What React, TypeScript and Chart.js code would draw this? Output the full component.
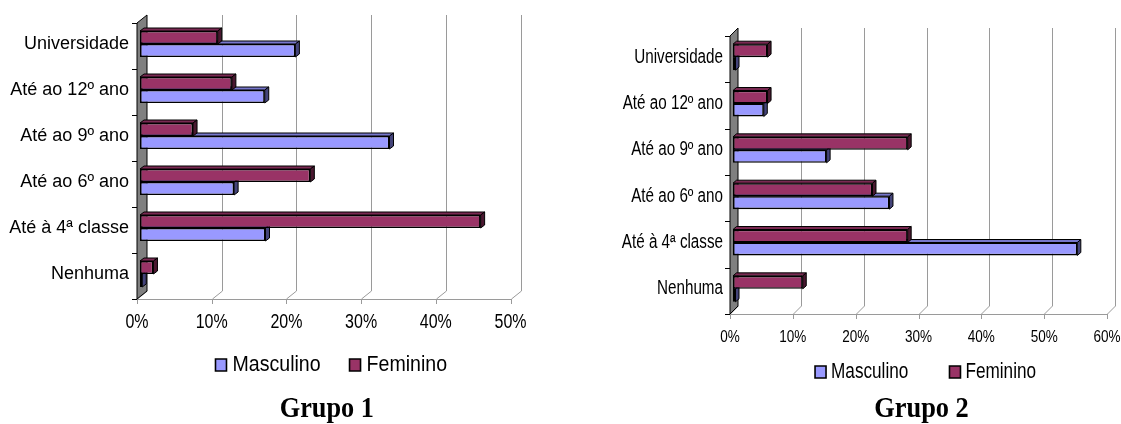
import React, { useEffect, useRef } from 'react';
import { Chart, registerables } from 'chart.js';

Chart.register(...registerables);

// ---- data ----
const categories = ['Universidade', 'Até ao 12º ano', 'Até ao 9º ano', 'Até ao 6º ano', 'Até à 4ª classe', 'Nenhuma'];
const seriesNames = ['Masculino', 'Feminino'];
const grupo1Masculino = [20.8, 16.7, 33.4, 12.6, 16.8, 0.3];
const grupo1Feminino = [10.4, 12.3, 7.1, 22.8, 45.6, 1.8];
const grupo2Masculino = [0.4, 4.9, 14.9, 24.9, 54.8, 0.4];
const grupo2Feminino = [5.5, 5.5, 27.8, 22.2, 27.8, 11.1];
const grupo1Ticks = [0, 10, 20, 30, 40, 50];
const grupo2Ticks = [0, 10, 20, 30, 40, 50, 60];
const chartTitles = ['Grupo 1', 'Grupo 2'];

const MASC = { front: '#9999FF', top: '#7777CC', side: '#44447A' };
const FEM = { front: '#993366', top: '#7A2952', side: '#4A1830' };

const SANS = '"Liberation Sans", Arial, Helvetica, sans-serif';
const SERIF = '"Liberation Serif", "Times New Roman", serif';

type Cfg = {
  left: number;
  width: number;
  yWidth: number;
  padRight: number;
  padTop: number;
  xHeight: number;
  xMax: number;
  ticks: number[];
  masc: number[];
  fem: number[];
  title: string;
  catFont: number;
  tickFont: number;
  tickPad: number;
  legendFont: number;
  legendPad: number;
  legendShift: number;
  titlePadTop: number;
  depth: [number, number];
  barDepth: [number, number];
  catPct: number;
  yPad: number;
  // font size -> [horizontal scale, x offset]
  textScale: Record<string, [number, number]>;
};

function make3d(cfg: Cfg) {
  const faces: Record<string, { top: string; side: string }> = {
    Masculino: MASC,
    Feminino: FEM,
  };
  return {
    id: 'excel3d',
    afterLayout(chart: any) {
      if (chart.legend) {
        chart.legend.left += cfg.legendShift;
        chart.legend.right += cfg.legendShift;
      }
    },
    beforeDatasetsDraw(chart: any) {
      const ctx = chart.ctx as CanvasRenderingContext2D;
      const area = chart.chartArea;
      const xs = chart.scales.x;
      const [Dx, Dy] = cfg.depth;
      const x0 = area.left - 3;
      const top = area.top + 2;
      const bottom = area.bottom + 2;
      ctx.save();
      ctx.lineWidth = 1;
      ctx.strokeStyle = '#9a9a9a';
      cfg.ticks.forEach((v) => {
        const x = Math.round(xs.getPixelForValue(v) - 3) + 0.5;
        ctx.beginPath();
        if (v > 0) {
          ctx.moveTo(x + Dx, top - Dy);
          ctx.lineTo(x + Dx, bottom - Dy);
        } else {
          ctx.moveTo(x + Dx, bottom - Dy);
        }
        ctx.lineTo(x, bottom);
        ctx.lineTo(x, bottom + 5);
        ctx.stroke();
      });
      const xEnd = Math.round(xs.getPixelForValue(cfg.xMax) - 3) + 0.5;
      ctx.beginPath();
      ctx.moveTo(x0, Math.round(bottom) + 0.5);
      ctx.lineTo(xEnd, Math.round(bottom) + 0.5);
      ctx.stroke();
      // wall
      ctx.fillStyle = '#808080';
      ctx.strokeStyle = '#000';
      ctx.beginPath();
      ctx.moveTo(x0, top);
      ctx.lineTo(x0 + Dx, top - Dy);
      ctx.lineTo(x0 + Dx, bottom - Dy);
      ctx.lineTo(x0, bottom);
      ctx.closePath();
      ctx.fill();
      ctx.stroke();
      // category ticks
      const n = categories.length;
      const ch = (bottom - top) / n;
      ctx.beginPath();
      for (let i = 0; i <= n; i++) {
        const y = Math.round(top + i * ch) + 0.5;
        ctx.moveTo(x0 - 5, y);
        ctx.lineTo(x0, y);
      }
      ctx.stroke();
      ctx.restore();
    },
    beforeDatasetDraw(chart: any, args: any) {
      const ctx = chart.ctx as CanvasRenderingContext2D;
      const ds = chart.data.datasets[args.index];
      const f = faces[ds.label];
      const [bx, by] = cfg.barDepth;
      ctx.save();
      ctx.lineWidth = 1;
      ctx.strokeStyle = '#000';
      ctx.lineJoin = 'round';
      args.meta.data.forEach((bar: any) => {
        const p = bar.getProps(['x', 'y', 'base', 'height'], true);
        const l = Math.min(p.base, p.x);
        const r = Math.max(p.base, p.x);
        const t = p.y - p.height / 2;
        const b = p.y + p.height / 2;
        ctx.fillStyle = f.top;
        ctx.beginPath();
        ctx.moveTo(l, t);
        ctx.lineTo(l + bx, t - by);
        ctx.lineTo(r + bx, t - by);
        ctx.lineTo(r, t);
        ctx.closePath();
        ctx.fill();
        ctx.stroke();
        ctx.fillStyle = f.side;
        ctx.beginPath();
        ctx.moveTo(r, t);
        ctx.lineTo(r + bx, t - by);
        ctx.lineTo(r + bx, b - by);
        ctx.lineTo(r, b);
        ctx.closePath();
        ctx.fill();
        ctx.stroke();
      });
      ctx.restore();
    },
  };
}

function condenseText(ctx: CanvasRenderingContext2D, map: Record<string, [number, number]>) {
  const orig = ctx.fillText.bind(ctx);
  (ctx as any).fillText = (text: string, x: number, y: number, maxWidth?: number) => {
    const m = /(\d+(?:\.\d+)?)px/.exec(ctx.font);
    const e = m ? map[m[1]] : undefined;
    if (!e) {
      if (maxWidth === undefined) orig(text, x, y);
      else orig(text, x, y, maxWidth);
      return;
    }
    ctx.save();
    ctx.translate(x + e[1], y);
    ctx.scale(e[0], 1);
    orig(text, 0, 0);
    ctx.restore();
  };
}

function BarChart({ cfg }: { cfg: Cfg }) {
  const ref = useRef<HTMLCanvasElement | null>(null);
  useEffect(() => {
    if (!ref.current) return;
    const ctx2d = ref.current.getContext('2d');
    if (ctx2d) condenseText(ctx2d, cfg.textScale);
    const chart = new Chart(ref.current, {
      type: 'bar',
      data: {
        labels: categories,
        datasets: [
          {
            label: seriesNames[1],
            data: cfg.fem,
            backgroundColor: FEM.front,
            borderColor: '#000',
            borderWidth: 1.6,
            borderSkipped: false,
            categoryPercentage: cfg.catPct,
            barPercentage: 1,
          },
          {
            label: seriesNames[0],
            data: cfg.masc,
            backgroundColor: MASC.front,
            borderColor: '#000',
            borderWidth: 1.6,
            borderSkipped: false,
            categoryPercentage: cfg.catPct,
            barPercentage: 1,
          },
        ],
      },
      options: {
        indexAxis: 'y',
        responsive: false,
        animation: false,
        events: [],
        devicePixelRatio: 1,
        layout: { padding: { left: 0, right: cfg.padRight, top: cfg.padTop, bottom: 0 } },
        scales: {
          x: {
            type: 'linear',
            min: 0,
            max: cfg.xMax,
            grid: { display: false, drawTicks: false },
            border: { display: false },
            ticks: {
              stepSize: 10,
              callback: (v: any) => v + '%',
              padding: cfg.tickPad,
              labelOffset: -3,
              maxRotation: 0,
              autoSkip: false,
              color: '#000',
              font: { family: SANS, size: cfg.tickFont },
            },
            afterFit: (s: any) => {
              s.height = cfg.xHeight;
              s.paddingLeft = 0;
              s.paddingRight = 0;
            },
          },
          y: {
            type: 'category',
            grid: { display: false, drawTicks: false },
            border: { display: false },
            ticks: {
              padding: cfg.yPad,
              autoSkip: false,
              color: '#000',
              font: { family: SANS, size: cfg.catFont },
            },
            afterFit: (s: any) => {
              s.width = cfg.yWidth;
              s.paddingTop = 0;
              s.paddingBottom = 0;
            },
          },
        },
        plugins: {
          tooltip: { enabled: false },
          legend: {
            position: 'bottom',
            fullSize: false,
            reverse: true,
            labels: {
              boxWidth: 11,
              boxHeight: 12,
              padding: cfg.legendPad,
              color: '#000',
              font: { family: SANS, size: cfg.legendFont },
            },
          },
          title: {
            display: true,
            text: cfg.title,
            position: 'bottom',
            fullSize: false,
            color: '#000',
            padding: { top: cfg.titlePadTop, bottom: 0 },
            font: { family: SERIF, size: 30, weight: 'bold', lineHeight: 1 },
          },
        },
      },
      plugins: [make3d(cfg)],
    } as any);
    return () => chart.destroy();
  }, [cfg]);
  return (
    <canvas
      ref={ref}
      width={cfg.width}
      height={424}
      style={{ position: 'absolute', left: cfg.left, top: 0, width: cfg.width, height: 424 }}
    />
  );
}

const cfg1: Cfg = {
  left: 0,
  width: 560,
  yWidth: 140,
  padRight: 46.5,
  padTop: 21,
  xHeight: 44,
  xMax: 50,
  ticks: grupo1Ticks,
  masc: grupo1Masculino,
  fem: grupo1Feminino,
  title: chartTitles[0],
  catFont: 18,
  tickFont: 20,
  tickPad: 13,
  legendFont: 22,
  legendPad: 13,
  legendShift: 12,
  titlePadTop: 8,
  depth: [10, 8],
  barDepth: [4, 3],
  catPct: 0.565,
  yPad: 11,
  textScale: { '20': [0.8, 0], '22': [0.89, -5], '30': [0.875, 0] },
};

const cfg2: Cfg = {
  left: 600,
  width: 521,
  yWidth: 133,
  padRight: 11,
  padTop: 34,
  xHeight: 35.6,
  xMax: 60,
  ticks: grupo2Ticks,
  masc: grupo2Masculino,
  fem: grupo2Feminino,
  title: chartTitles[1],
  catFont: 19.5,
  tickFont: 16.5,
  tickPad: 15.1,
  legendFont: 22,
  legendPad: 13.4,
  legendShift: 17,
  titlePadTop: 1,
  depth: [8, 8],
  barDepth: [3.5, 3],
  catPct: 0.56,
  yPad: 10,
  textScale: { '19.5': [0.78, 0], '16.5': [0.82, 0], '22': [0.78, -6], '30': [0.88, 0] },
};

export default function App() {
  return (
    <div style={{ position: 'absolute', left: 0, top: 0, width: 1121, height: 424, background: '#fff' }}>
      <BarChart cfg={cfg1} />
      <BarChart cfg={cfg2} />
    </div>
  );
}
